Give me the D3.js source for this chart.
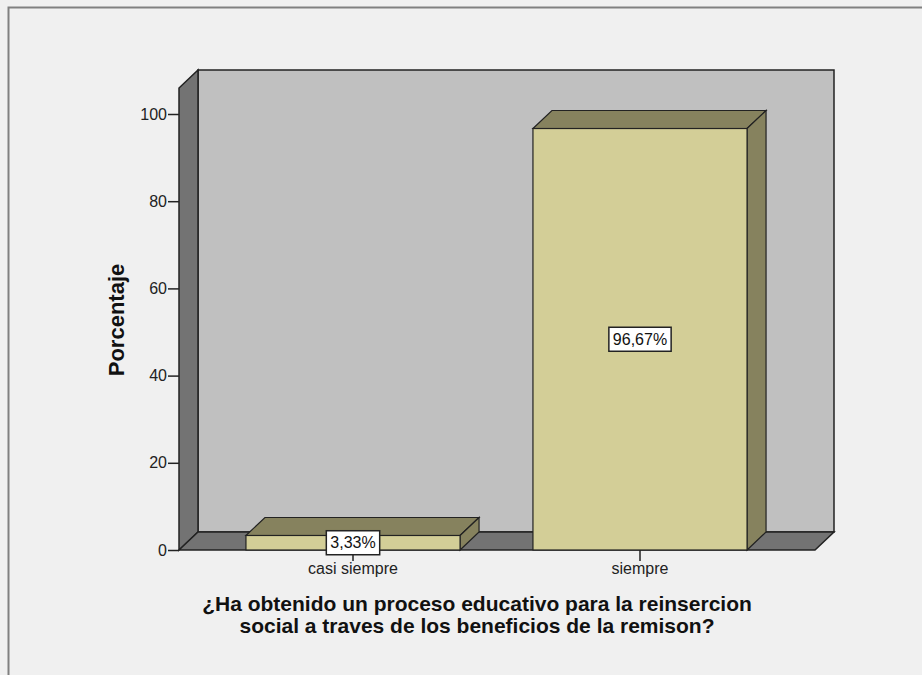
<!DOCTYPE html>
<html>
<head>
<meta charset="utf-8">
<script src="https://cdn.jsdelivr.net/npm/d3@7"></script>
<style>
  body { margin: 0; background: #f0f0f0; }
  text { font-family: "Liberation Sans", Arial, sans-serif; }
</style>
</head>
<body>
<script>
// 3D bar chart (SPSS style): Porcentaje por categoria

// Data
let categories = ["casi siempre", "siempre"];
let percents = [3.33, 96.67];
let valueLabels = ["3,33%", "96,67%"];
let yTicks = [0, 20, 40, 60, 80, 100];
let titleLines = ["¿Ha obtenido un proceso educativo para la reinsercion",
                  "social a traves de los beneficios de la remison?"];

// Set up the svg
let svgWidth = 922;
let svgHeight = 675;

// depth offset for the 3D effect
let dx = 19;
let dy = -18;

let plotLeft = 179;
let plotRight = 815;
let plotBottom = 550;

let svg = d3.select("body")
            .append("svg")
            .attr("width", svgWidth)
            .attr("height", svgHeight);

svg.append("rect")
   .attr("width", svgWidth)
   .attr("height", svgHeight)
   .attr("fill", "#f0f0f0");

// outer frame (top and left edges only visible)
svg.append("path")
   .attr("d", "M8.5,675 V7.5 H922")
   .attr("fill", "none")
   .attr("stroke", "#808080")
   .attr("stroke-width", 2);

// Scales
let yScale = d3.scaleLinear()
               .domain([0, 100])
               .range([plotBottom, 114]);

let xScale = d3.scaleBand()
               .domain(categories)
               .range([209.5, 783.5]);

let barWidth = xScale.bandwidth() * 0.746;

let yTop = yScale(100) - 26; // top of the back wall

// Back wall
svg.append("rect")
   .attr("x", plotLeft + dx)
   .attr("y", yTop + dy)
   .attr("width", plotRight - plotLeft)
   .attr("height", plotBottom - yTop)
   .attr("fill", "#c0c0c0")
   .attr("stroke", "#222")
   .attr("stroke-width", 1.5);

// Left side wall
svg.append("path")
   .attr("d", `M${plotLeft},${plotBottom} L${plotLeft},${yTop} L${plotLeft + dx},${yTop + dy} L${plotLeft + dx},${plotBottom + dy} Z`)
   .attr("fill", "#737373")
   .attr("stroke", "#222")
   .attr("stroke-width", 1.5);

// Floor
svg.append("path")
   .attr("d", `M${plotLeft},${plotBottom} L${plotLeft + dx},${plotBottom + dy} L${plotRight + dx},${plotBottom + dy} L${plotRight},${plotBottom} Z`)
   .attr("fill", "#737373")
   .attr("stroke", "#222")
   .attr("stroke-width", 1.5);

// Bars
let bars = svg.selectAll(".bar")
              .data(categories)
              .enter()
              .append("g")
              .attr("class", "bar");

bars.each(function(c, i) {
    let g = d3.select(this);
    let cx = xScale(c) + xScale.bandwidth() / 2;
    let x0 = cx - barWidth / 2;
    let x1 = cx + barWidth / 2;
    let yv = yScale(percents[i]);

    // top face
    g.append("path")
     .attr("d", `M${x0},${yv} L${x0 + dx},${yv + dy} L${x1 + dx},${yv + dy} L${x1},${yv} Z`)
     .attr("fill", "#86825e")
     .attr("stroke", "#222")
     .attr("stroke-width", 1.2);

    // side face
    g.append("path")
     .attr("d", `M${x1},${yv} L${x1 + dx},${yv + dy} L${x1 + dx},${plotBottom + dy} L${x1},${plotBottom} Z`)
     .attr("fill", "#86825e")
     .attr("stroke", "#222")
     .attr("stroke-width", 1.2);

    // front face
    g.append("rect")
     .attr("x", x0)
     .attr("y", yv)
     .attr("width", barWidth)
     .attr("height", plotBottom - yv)
     .attr("fill", "#d3ce97")
     .attr("stroke", "#222")
     .attr("stroke-width", 1.2);
});

// Axes
let leftAxis = d3.axisLeft(yScale)
                 .tickValues(yTicks)
                 .tickSize(11)
                 .tickPadding(1);

let yAxisG = svg.append("g")
                .attr("transform", `translate(${plotLeft}, 0)`)
                .call(leftAxis);
yAxisG.select(".domain").remove();
yAxisG.selectAll("line").attr("stroke", "#222").attr("stroke-width", 1.5);
yAxisG.selectAll("text")
      .attr("font-size", "16px")
      .attr("fill", "#222")
      .style("font-family", "'Liberation Sans', Arial, sans-serif");

let bottomAxis = d3.axisBottom(xScale)
                   .tickSize(11)
                   .tickPadding(2);

let xAxisG = svg.append("g")
                .attr("transform", `translate(0, ${plotBottom})`)
                .call(bottomAxis);
xAxisG.select(".domain").remove();
xAxisG.selectAll("line").attr("stroke", "#222").attr("stroke-width", 1.5);
xAxisG.selectAll("text")
      .attr("font-size", "16px")
      .attr("fill", "#222")
      .style("font-family", "'Liberation Sans', Arial, sans-serif");

// Value labels, boxed, centred on the bar front
categories.forEach(function(c, i) {
    let cx = xScale(c) + xScale.bandwidth() / 2;
    let cy = (yScale(percents[i]) + plotBottom) / 2;
    let t = svg.append("text")
               .attr("x", cx)
               .attr("y", cy)
               .attr("dy", "0.35em")
               .attr("text-anchor", "middle")
               .attr("font-size", "16px")
               .attr("fill", "#111")
               .text(valueLabels[i]);
    let bb = t.node().getBBox();
    svg.insert("rect", function() { return t.node(); })
       .attr("x", bb.x - 4)
       .attr("y", cy - 12)
       .attr("width", bb.width + 8)
       .attr("height", 24)
       .attr("fill", "white")
       .attr("stroke", "#222")
       .attr("stroke-width", 1.5);
});

// Axis titles
svg.append("text")
   .attr("transform", "translate(124, 320) rotate(-90)")
   .attr("text-anchor", "middle")
   .attr("font-size", "22px")
   .attr("font-weight", "bold")
   .attr("fill", "#111")
   .text("Porcentaje");

svg.selectAll(".xtitle")
   .data(titleLines)
   .enter()
   .append("text")
   .attr("class", "xtitle")
   .attr("x", 477)
   .attr("y", (d, i) => 611 + i * 22)
   .attr("text-anchor", "middle")
   .attr("font-size", "21px")
   .attr("font-weight", "bold")
   .attr("fill", "#111")
   .text(d => d);
</script>
</body>
</html>
